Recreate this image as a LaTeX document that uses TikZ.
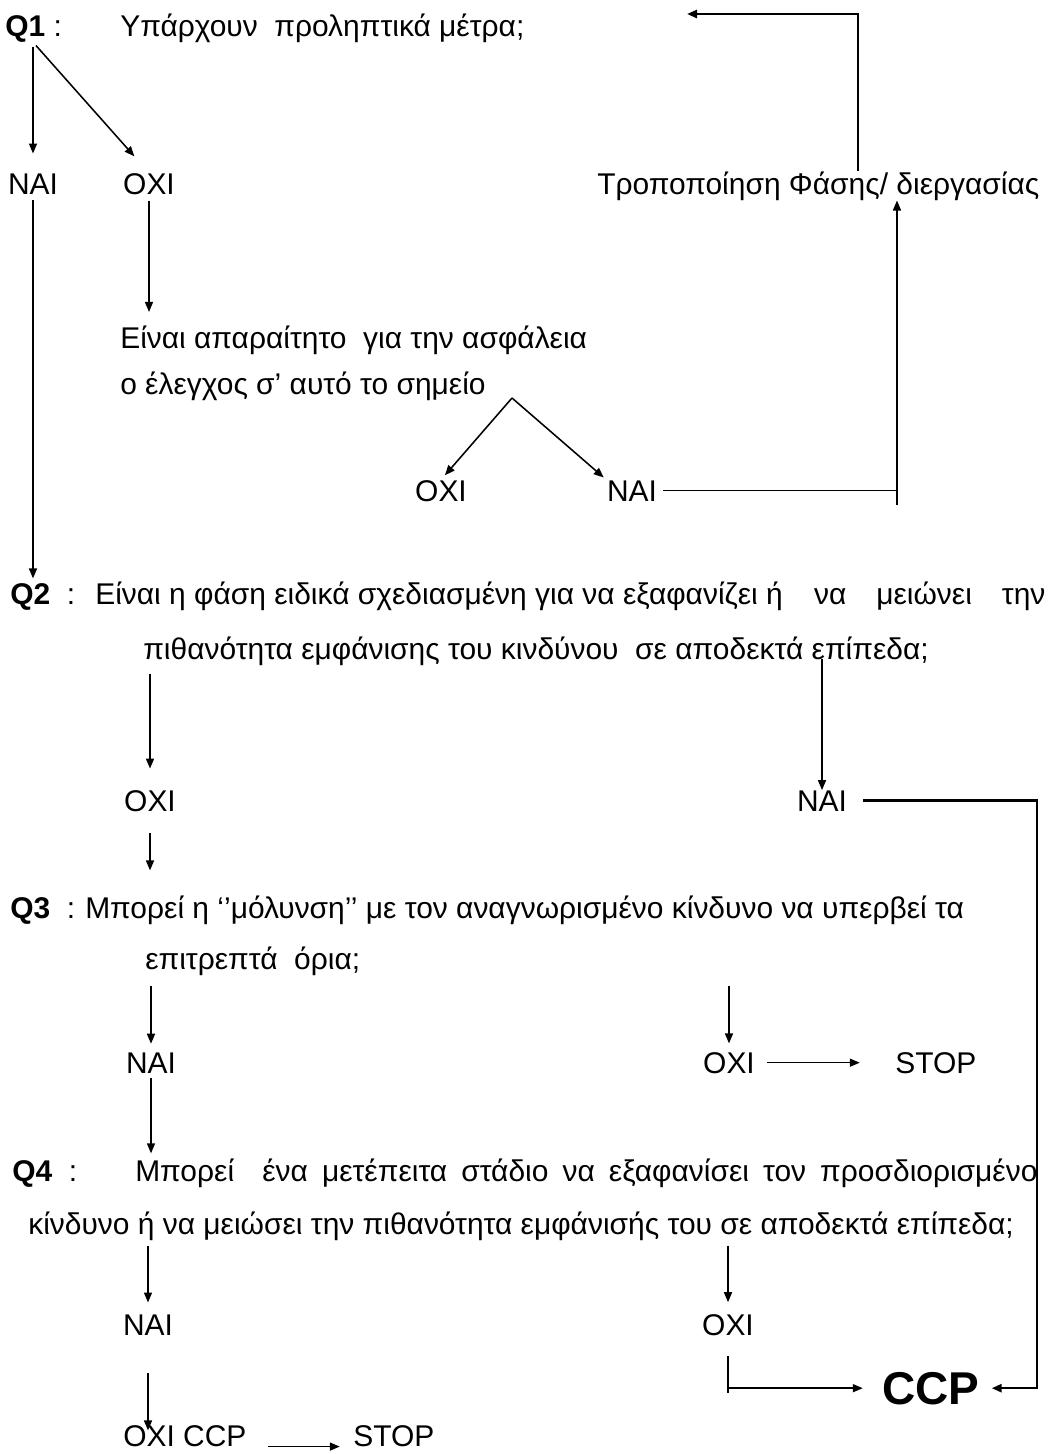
\documentclass[tikz,border=0pt]{standalone}
\usepackage{fontspec}
\setmainfont{Liberation Sans}
\usetikzlibrary{arrows.meta}
\begin{document}
\begin{tikzpicture}[x=0.025cm, y=-0.025cm, >={Triangle[length=0.25cm,width=0.2cm]},
        txt/.style={inner sep=0pt, anchor=base west, font=\fontsize{21.3}{25}\selectfont},
        ans/.style={inner sep=0pt, anchor=base, font=\fontsize{21.3}{25}\selectfont},
        conn/.style={->, line width=1.1pt},
        heavy/.style={line width=1.8pt}]
    \useasboundingbox (0,0) rectangle (1049,1454);

    % Q1 and its answers
    \node[txt] (q1) at (5,36) {\textbf{Q1} :};
    \node[txt] (q1txt) at (120,36) {Υπάρχουν\ \ προληπτικά μέτρα;};
    \node[ans] (nai1) at (33,194) {NAI};
    \node[ans] (oxi1) at (149,194) {OXI};
    \node[txt] (modif) at (597,194) {Τροποποίηση Φάσης/ διεργασίας};
    \node[txt] (need1) at (120,348) {Είναι απαραίτητο\ \ για την ασφάλεια};
    \node[txt] (need2) at (120,394) {ο έλεγχος σ’ αυτό το σημείο};
    \node[ans] (oxi2) at (441,501) {OXI};
    \node[ans] (nai2) at (632,501) {NAI};

    % Q2
    \node[txt] (q2) at (10,604) {\textbf{Q2}\ \ :};
    \node[txt] (q2a) at (95,604) {\hbox to 23.75cm{Είναι η φάση ειδικά σχεδιασμένη για να εξαφανίζει ή\hfill να\hspace{0.75cm}μειώνει\hspace{0.75cm}την}};
    \node[txt] (q2b) at (143,659) {πιθανότητα εμφάνισης του κινδύνου\ \ σε αποδεκτά επίπεδα;};
    \node[ans] (oxi3) at (150,811) {OXI};
    \node[ans] (nai3) at (822,811) {NAI};

    % Q3
    \node[txt] (q3) at (10,918) {\textbf{Q3}\ \ :};
    \node[txt] (q3a) at (85,918) {Μπορεί η ‘’μόλυνση’’ με τον αναγνωρισμένο κίνδυνο να υπερβεί τα};
    \node[txt] (q3b) at (145,969) {επιτρεπτά\ \ όρια;};
    \node[ans] (nai4) at (151,1073) {NAI};
    \node[ans] (oxi4) at (729,1073) {OXI};
    \node[txt] (stop1) at (895,1073) {STOP};

    % Q4
    \node[txt] (q4) at (12,1181) {\textbf{Q4}\ \ :};
    \node[txt] (q4a) at (135,1181) {\makebox[22.55cm][s]{Μπορεί\ \ ένα μετέπειτα στάδιο να εξαφανίσει τον προσδιορισμένο}};
    \node[txt] (q4b) at (28,1234) {κίνδυνο ή να μειώσει την πιθανότητα εμφάνισής του σε αποδεκτά επίπεδα;};
    \node[ans] (nai5) at (148,1335) {NAI};
    \node[ans] (oxi5) at (728,1335) {OXI};
    \node[txt, font=\fontsize{32.7}{36}\selectfont\bfseries] (ccp) at (882,1404) {CCP};
    \node[txt] (oxiccp) at (123,1446) {OXI CCP};
    \node[txt] (stop2) at (353,1446) {STOP};

    % connectors
    \coordinate (topturn) at (858,14);
    \coordinate (topend) at (687,14);
    \coordinate (upfoot) at (897,505);
    \coordinate (fork) at (512,398);
    \coordinate (rightrail) at (1037,792);

    \draw[conn, shorten <=0.11cm, shorten >=0.49cm] (q1.south -| nai1.north) -- (nai1.north);
    \draw[conn, shorten <=0.11cm, shorten >=0.55cm] (q1.south -| nai1.north) -- (oxi1.north);
    \draw[->, heavy] (modif.north -| topturn) -- (topturn) -- (topend);
    \draw[conn] (upfoot) -- (upfoot |- modif.south);
    \draw[conn, shorten <=0.15cm, shorten >=0.11cm] (nai1.south) -- (nai1.south |- q2.north);
    \draw[conn, shorten <=0.15cm, shorten >=0.33cm] (oxi1.south) -- (oxi1.south |- need1.north);
    \draw[conn, shorten >=0.15cm] (fork) -- (oxi2.north);
    \draw[conn, shorten >=0.1cm] (fork) -- (nai2.north west);
    \draw[line width=1.1pt, shorten <=0.15cm] (nai2.east) -- (nai2.east -| upfoot);

    \draw[conn, shorten <=0.2cm, shorten >=0.53cm] (q2b.south -| oxi3.north) -- (oxi3.north);
    \draw[conn] (q2b.base -| nai3.north) -- (nai3.north);
    \draw[->, heavy, shorten <=0.4cm, shorten >=0.3cm] (nai3.east) -- (nai3.east -| rightrail) |- (ccp.east);
    \draw[conn, shorten <=0.53cm, shorten >=0.66cm] (oxi3.south) -- (oxi3.south |- q3.north);

    \draw[conn, shorten <=0.25cm, shorten >=0.21cm] (q3b.south -| nai4.north) -- (nai4.north);
    \draw[conn, shorten <=0.25cm, shorten >=0.21cm] (q3b.south -| oxi4.north) -- (oxi4.north);
    \draw[conn, shorten <=0.3cm, shorten >=0.88cm] (oxi4.east) -- (stop1.west);
    \draw[conn, shorten <=0.13cm, shorten >=0.12cm] (nai4.south) -- (nai4.south |- q4a.north);

    \draw[conn, shorten <=0.13cm, shorten >=0.29cm] (q4b.south -| nai5.north) -- (nai5.north);
    \draw[conn, shorten <=0.13cm, shorten >=0.29cm] (q4b.south -| oxi5.north) -- (oxi5.north);
    \draw[conn, shorten <=0.95cm, shorten >=-0.14cm] (nai5.south) -- (nai5.south |- oxiccp.north);
    \draw[conn, shorten <=0.53cm, shorten >=0.33cm] (oxiccp.south east) -- (stop2.south west);
    \draw[line width=1.1pt] (oxi5.south) ++(0,20) -- ++(0,37);
    \draw[conn, shorten >=0.48cm] (oxi5.south |- ccp.west) -- (ccp.west);
\end{tikzpicture}
\end{document}
